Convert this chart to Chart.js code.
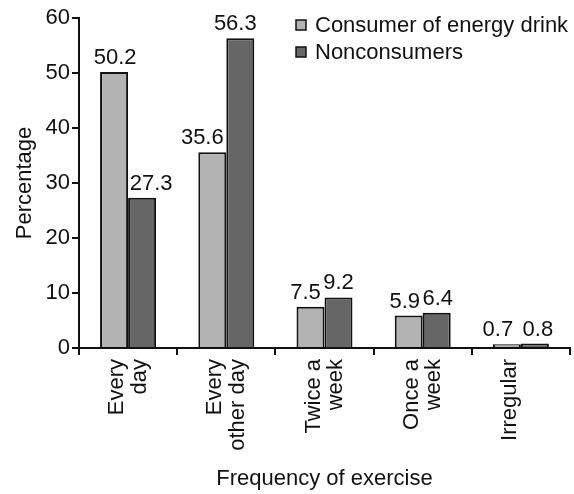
<!DOCTYPE html>
<html>
<head>
<meta charset="utf-8">
<script src="https://cdn.jsdelivr.net/npm/chart.js@4"></script>
<style>
  html, body { margin: 0; padding: 0; background: #fff; }
  #wrap { width: 574px; height: 494px; }
</style>
</head>
<body>
<div id="wrap"><canvas id="exercise-chart" width="574" height="494"></canvas></div>
<script>
// categories (rotated labels, one array entry per line)
var categories = [["Every", "day"], ["Every", "other day"], ["Twice a", "week"], ["Once a", "week"], ["Irregular"]];
var seriesNames = ["Consumer of energy drink", "Nonconsumers"];
var consumerValues = [50.2, 35.6, 7.5, 5.9, 0.7];
var nonconsumerValues = [27.3, 56.3, 9.2, 6.4, 0.8];
var yTicks = [0, 10, 20, 30, 40, 50, 60];

var lightGray = "#b3b3b3";
var darkGray = "#666666";
var FONT = "'Liberation Sans', Arial, sans-serif";
var FS = 22;

Chart.defaults.font.family = FONT;
Chart.defaults.font.size = FS;
Chart.defaults.color = "#111";

// value labels above each bar, nudged sideways so neighbours don't collide
var labelShift = [[1, -10, -5, -4, -9], [9, -5, 0, 1, 3]];
var barLabels = {
    id: "barLabels",
    afterDatasetsDraw: function(chart) {
        var ctx = chart.ctx;
        ctx.save();
        ctx.font = FS + "px " + FONT;
        ctx.fillStyle = "#111";
        ctx.textAlign = "center";
        ctx.textBaseline = "alphabetic";
        chart.data.datasets.forEach(function(ds, di) {
            var meta = chart.getDatasetMeta(di);
            meta.data.forEach(function(bar, i) {
                ctx.fillText(ds.data[i].toFixed(1), bar.x + labelShift[di][i], bar.y - 8);
            });
        });
        ctx.restore();
    }
};

// legend drawn inside the plot, top right
var boxLegend = {
    id: "boxLegend",
    afterDraw: function(chart) {
        var ctx = chart.ctx;
        var colors = [lightGray, darkGray];
        ctx.save();
        ctx.font = FS + "px " + FONT;
        ctx.textBaseline = "middle";
        ctx.textAlign = "left";
        seriesNames.forEach(function(name, i) {
            var y = 25 + i * 27;
            ctx.fillStyle = colors[i];
            ctx.fillRect(296, y - 5, 10, 10);
            ctx.strokeStyle = "#111";
            ctx.lineWidth = 1.5;
            ctx.strokeRect(296, y - 5, 10, 10);
            ctx.fillStyle = "#111";
            ctx.fillText(name, 315, y + 1);
        });
        ctx.restore();
    }
};

var chart = new Chart("exercise-chart", {
    type: "bar",
    data: {
        labels: categories,
        datasets: [{
            label: seriesNames[0],
            data: consumerValues,
            backgroundColor: lightGray,
            borderColor: "#111",
            borderWidth: 2,
            borderSkipped: "bottom",
            categoryPercentage: 0.57,
            barPercentage: 1.0
        }, {
            label: seriesNames[1],
            data: nonconsumerValues,
            backgroundColor: darkGray,
            borderColor: "#111",
            borderWidth: 2,
            borderSkipped: "bottom",
            categoryPercentage: 0.57,
            barPercentage: 1.0
        }]
    },
    options: {
        responsive: false,
        animation: false,
        layout: { padding: { top: 18, right: 4, left: 0, bottom: 0 } },
        plugins: {
            legend: { display: false },
            tooltip: { enabled: false }
        },
        scales: {
            x: {
                grid: {
                    offset: true,
                    drawOnChartArea: false,
                    drawTicks: true,
                    tickLength: 7,
                    color: "#111",
                    lineWidth: 2
                },
                border: { color: "#111", width: 2 },
                ticks: {
                    minRotation: 90,
                    maxRotation: 90,
                    padding: 4,
                    labelOffset: -11,
                    color: "#111",
                    font: { size: FS, lineHeight: 1.02 }
                },
                title: {
                    display: true,
                    text: "Frequency of exercise",
                    color: "#111",
                    font: { size: FS },
                    padding: { top: 0, bottom: 2 }
                },
                afterFit: function(scale) { scale.height = 146; }
            },
            y: {
                min: 0,
                max: 60,
                afterBuildTicks: function(scale) {
                    scale.ticks = yTicks.map(function(v) { return { value: v }; });
                },
                grid: {
                    drawOnChartArea: false,
                    drawTicks: true,
                    tickLength: 7,
                    color: "#111",
                    lineWidth: 2
                },
                border: { color: "#111", width: 2 },
                ticks: {
                    padding: 2,
                    color: "#111",
                    font: { size: FS }
                },
                title: {
                    display: true,
                    text: "Percentage",
                    color: "#111",
                    font: { size: FS },
                    padding: { top: 12, bottom: 0 }
                },
                afterFit: function(scale) { scale.width = 79; }
            }
        }
    },
    plugins: [barLabels, boxLegend]
});
</script>
</body>
</html>
